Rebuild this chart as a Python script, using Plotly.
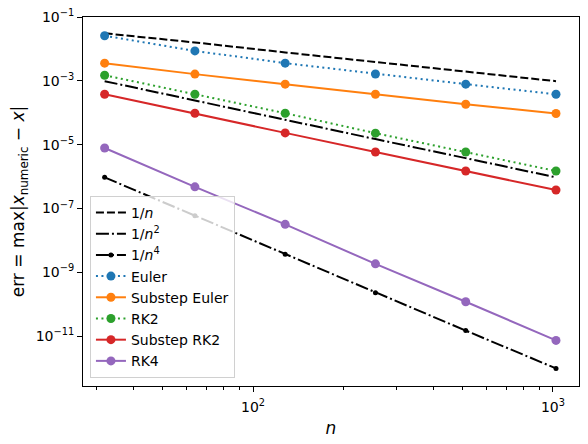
import plotly.graph_objects as go

# step counts
n = [32, 64, 128, 256, 512, 1024]

# reference slopes
ref_n1 = [3.1e-2, 1.6e-2, 7.8e-3, 3.9e-3, 2.0e-3, 9.8e-4]
ref_n2 = [9.8e-4, 2.4e-4, 6.1e-5, 1.5e-5, 3.8e-6, 9.5e-7]
ref_n4 = [9.5e-7, 6.0e-8, 3.7e-9, 2.3e-10, 1.5e-11, 9.8e-13]

# errors of each method
err_euler = [2.6e-2, 8.7e-3, 3.6e-3, 1.65e-3, 7.9e-4, 3.8e-4]
err_sub_euler = [3.6e-3, 1.63e-3, 7.9e-4, 3.8e-4, 1.86e-4, 9.5e-5]
err_rk2 = [1.5e-3, 3.8e-4, 9.7e-5, 2.3e-5, 5.9e-6, 1.5e-6]
err_sub_rk2 = [3.8e-4, 9.7e-5, 2.35e-5, 5.9e-6, 1.5e-6, 3.8e-7]
err_rk4 = [7.9e-6, 4.8e-7, 3.2e-8, 1.85e-9, 1.2e-10, 7.4e-12]

y_ticks = [1e-1, 1e-3, 1e-5, 1e-7, 1e-9, 1e-11]
y_ticktext = ["10<sup>\u22121</sup>", "10<sup>\u22123</sup>", "10<sup>\u22125</sup>",
              "10<sup>\u22127</sup>", "10<sup>\u22129</sup>", "10<sup>\u221211</sup>"]
x_ticks = [100, 1000]
x_ticktext = ["10<sup>2</sup>", "10<sup>3</sup>"]
x_minor = [30, 40, 50, 60, 70, 80, 90, 200, 300, 400, 500, 600, 700, 800, 900]

DASH = "8px,3px"
DASHDOT = "13px,3px,2px,3px"
DOT = "2px,3.5px"

fig = go.Figure()
fig.add_trace(go.Scatter(x=n, y=ref_n1, mode="lines", name="1/<i>n</i>",
                         line=dict(color="black", width=2, dash=DASH)))
fig.add_trace(go.Scatter(x=n, y=ref_n2, mode="lines", name="1/<i>n</i><sup>2</sup>",
                         line=dict(color="black", width=2, dash=DASHDOT)))
fig.add_trace(go.Scatter(x=n, y=ref_n4, mode="lines+markers", name="1/<i>n</i><sup>4</sup>",
                         line=dict(color="black", width=2, dash=DASHDOT),
                         marker=dict(color="black", size=5)))

methods = [
    ("Euler", err_euler, "#1f77b4", DOT),
    ("Substep Euler", err_sub_euler, "#ff7f0e", "solid"),
    ("RK2", err_rk2, "#2ca02c", DOT),
    ("Substep RK2", err_sub_rk2, "#d62728", "solid"),
    ("RK4", err_rk4, "#9467bd", "solid"),
]
for name, err, col, dash in methods:
    fig.add_trace(go.Scatter(x=n, y=err, mode="lines+markers", name=name,
                             line=dict(color=col, width=2, dash=dash),
                             marker=dict(color=col, size=9)))

axis_common = dict(showline=True, mirror=True, linecolor="black", linewidth=1,
                   ticks="outside", ticklen=5, tickcolor="black", showgrid=False,
                   zeroline=False, automargin=False, ticklabeloverflow="allow",
                   tickfont=dict(size=14, color="black"))

# page body keeps its 8px default margin, so the figure is 16px smaller
fig.update_layout(
    width=580, height=436,
    margin=dict(l=75, r=9, t=9, b=58),
    paper_bgcolor="white", plot_bgcolor="white",
    font=dict(family="DejaVu Sans", size=14, color="black"),
    xaxis=dict(type="log", range=[1.433, 3.087], tickmode="array",
               tickvals=x_ticks, ticktext=x_ticktext, ticklabelstandoff=3,
               minor=dict(tickmode="array", tickvals=x_minor, ticks="outside",
                          ticklen=3, tickcolor="black"),
               title=dict(text="<i>n</i>", standoff=8), **axis_common),
    yaxis=dict(type="log", range=[-12.56, -0.998], tickmode="array",
               tickvals=y_ticks, ticktext=y_ticktext,
               title=dict(text="err = max|<i>x</i><sub>numeric</sub> \u2212 <i>x</i>|", standoff=6),
               **axis_common),
    legend=dict(x=0.014, y=0.022, xanchor="left", yanchor="bottom",
                bgcolor="rgba(255,255,255,0.8)", bordercolor="#d0d0d0", borderwidth=1,
                font=dict(size=14), tracegroupgap=0),
    showlegend=True,
)

fig.write_html("out.html")
